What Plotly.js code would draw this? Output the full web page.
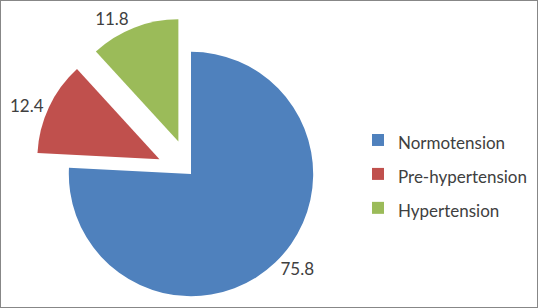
<!DOCTYPE html>
<html>
<head>
<meta charset="utf-8">
<script src="https://cdn.plot.ly/plotly-3.0.1.min.js"></script>
<style>
  html, body { margin: 0; padding: 0; width: 538px; height: 308px; overflow: hidden; background: #fff; }
  #frame { position: fixed; left: 0; top: 0; width: 536px; height: 306px; border: 1px solid #878787; pointer-events: none; z-index: 10; }
  #chart { position: absolute; left: 0; top: 0; width: 538px; height: 348px; }
</style>
</head>
<body>
<div id="chart"></div>
<div id="frame"></div>
<script>
const categories = ["Normotension", "Pre-hypertension", "Hypertension"];
const values = [75.8, 12.4, 11.8];
const colors = ["#4F81BD", "#C0504D", "#9BBB59"];
const pulls = [0, 0.285, 0.285];

const FONT = "Lato, 'Open Sans', sans-serif";
const legendLabels = categories.map(c => '<span style="font-size:17px">' + c + '</span>');

const W = 538, H = 348;
const trace = {
  type: "pie",
  labels: legendLabels,
  values: values,
  sort: false,
  direction: "clockwise",
  rotation: 0,
  pull: pulls,
  marker: { colors: colors, line: { width: 0 } },
  textinfo: "value",
  textposition: "outside",
  textfont: { family: FONT, size: 17, color: "#404040" },
  domain: { x: [34 / W, 348 / W], y: [(H - 331) / H, (H - 17) / H] },
  hoverinfo: "label+value"
};

const layout = {
  width: W,
  height: H,
  margin: { l: 0, r: 0, t: 0, b: 0 },
  paper_bgcolor: "#ffffff",
  plot_bgcolor: "#ffffff",
  showlegend: true,
  legend: {
    x: 358 / W,
    xanchor: "left",
    y: 1 - 118 / H,
    yanchor: "top",
    font: { family: FONT, size: 23.8, color: "#404040" },
    bgcolor: "rgba(0,0,0,0)"
  },
  font: { family: FONT, color: "#404040" }
};

Plotly.newPlot("chart", [trace], layout, { displayModeBar: false, staticPlot: true });
</script>
</body>
</html>
